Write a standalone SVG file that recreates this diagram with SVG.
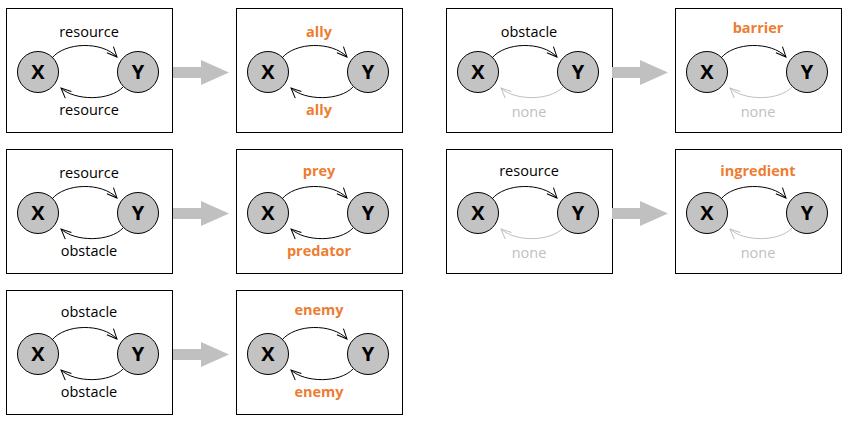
<svg xmlns="http://www.w3.org/2000/svg" width="849" height="423" viewBox="0 0 849 423">
<style>
.box{fill:#fff;stroke:#000;stroke-width:1}
.node{fill:#c3c3c3;stroke:#000;stroke-width:1}
.nl{font-family:"Open Sans","DejaVu Sans",sans-serif;font-weight:bold;font-size:20px;text-anchor:middle;fill:#000}
.lbl{font-family:"Open Sans","DejaVu Sans",sans-serif;font-size:14.5px;text-anchor:middle;fill:#000}
.hl{font-family:"Open Sans","DejaVu Sans",sans-serif;font-size:14.5px;font-weight:bold;text-anchor:middle;fill:#ED7D31}
.nn{font-family:"Open Sans","DejaVu Sans",sans-serif;font-size:14.5px;text-anchor:middle;fill:#c0c0c0}
.arc{fill:none;stroke:#000;stroke-width:1;marker-end:url(#ah)}
.arcg{fill:none;stroke:#c0c0c0;stroke-width:1;marker-end:url(#ahg)}
.big{fill:#c0c0c0}
</style>
<defs>
<marker id="ah" markerUnits="userSpaceOnUse" markerWidth="12" markerHeight="10" refX="10" refY="4.5" orient="auto" viewBox="0 0 12 9" overflow="visible">
<path d="M0,0 L10,4.5 L0,9" fill="none" stroke="#000" stroke-width="1"/>
</marker>
<marker id="ahg" markerUnits="userSpaceOnUse" markerWidth="12" markerHeight="10" refX="10" refY="4.5" orient="auto" viewBox="0 0 12 9" overflow="visible">
<path d="M0,0 L10,4.5 L0,9" fill="none" stroke="#c0c0c0" stroke-width="1"/>
</marker>
</defs>

<g id="panel1" transform="translate(6,8)">
<rect class="box" x="0.5" y="0.5" width="166" height="124"/>
<g id="p1-x"><circle class="node" cx="32" cy="64" r="20.5"/><text class="nl" x="32" y="71">X</text></g>
<g id="p1-y"><circle class="node" cx="132" cy="64" r="20.5"/><text class="nl" x="132" y="71">Y</text></g>
<text class="lbl" x="83" y="29">resource</text>
<text class="lbl" x="83" y="107">resource</text>
</g>
<g id="panel2" transform="translate(236,8)">
<rect class="box" x="0.5" y="0.5" width="166" height="124"/>
<g id="p2-x"><circle class="node" cx="32" cy="64" r="20.5"/><text class="nl" x="32" y="71">X</text></g>
<g id="p2-y"><circle class="node" cx="132" cy="64" r="20.5"/><text class="nl" x="132" y="71">Y</text></g>
<text class="hl" x="83" y="29">ally</text>
<text class="hl" x="83" y="107">ally</text>
</g>
<g id="panel3" transform="translate(446,8)">
<rect class="box" x="0.5" y="0.5" width="166" height="124"/>
<g id="p3-x"><circle class="node" cx="32" cy="64" r="20.5"/><text class="nl" x="32" y="71">X</text></g>
<g id="p3-y"><circle class="node" cx="132" cy="64" r="20.5"/><text class="nl" x="132" y="71">Y</text></g>
<text class="lbl" x="83" y="29">obstacle</text>
<text class="nn" x="83" y="109">none</text>
</g>
<g id="panel4" transform="translate(675,8)">
<rect class="box" x="0.5" y="0.5" width="166" height="124"/>
<g id="p4-x"><circle class="node" cx="32" cy="64" r="20.5"/><text class="nl" x="32" y="71">X</text></g>
<g id="p4-y"><circle class="node" cx="132" cy="64" r="20.5"/><text class="nl" x="132" y="71">Y</text></g>
<text class="hl" x="83" y="25">barrier</text>
<text class="nn" x="83" y="109">none</text>
</g>
<g id="panel5" transform="translate(6,149)">
<rect class="box" x="0.5" y="0.5" width="166" height="124"/>
<g id="p5-x"><circle class="node" cx="32" cy="64" r="20.5"/><text class="nl" x="32" y="71">X</text></g>
<g id="p5-y"><circle class="node" cx="132" cy="64" r="20.5"/><text class="nl" x="132" y="71">Y</text></g>
<text class="lbl" x="83" y="29">resource</text>
<text class="lbl" x="83" y="107">obstacle</text>
</g>
<g id="panel6" transform="translate(236,149)">
<rect class="box" x="0.5" y="0.5" width="166" height="124"/>
<g id="p6-x"><circle class="node" cx="32" cy="64" r="20.5"/><text class="nl" x="32" y="71">X</text></g>
<g id="p6-y"><circle class="node" cx="132" cy="64" r="20.5"/><text class="nl" x="132" y="71">Y</text></g>
<text class="hl" x="83" y="27">prey</text>
<text class="hl" x="83" y="107">predator</text>
</g>
<g id="panel7" transform="translate(446,149)">
<rect class="box" x="0.5" y="0.5" width="166" height="124"/>
<g id="p7-x"><circle class="node" cx="32" cy="64" r="20.5"/><text class="nl" x="32" y="71">X</text></g>
<g id="p7-y"><circle class="node" cx="132" cy="64" r="20.5"/><text class="nl" x="132" y="71">Y</text></g>
<text class="lbl" x="83" y="27">resource</text>
<text class="nn" x="83" y="109">none</text>
</g>
<g id="panel8" transform="translate(675,149)">
<rect class="box" x="0.5" y="0.5" width="166" height="124"/>
<g id="p8-x"><circle class="node" cx="32" cy="64" r="20.5"/><text class="nl" x="32" y="71">X</text></g>
<g id="p8-y"><circle class="node" cx="132" cy="64" r="20.5"/><text class="nl" x="132" y="71">Y</text></g>
<text class="hl" x="83" y="27">ingredient</text>
<text class="nn" x="83" y="109">none</text>
</g>
<g id="panel9" transform="translate(6,290)">
<rect class="box" x="0.5" y="0.5" width="166" height="124"/>
<g id="p9-x"><circle class="node" cx="32" cy="64" r="20.5"/><text class="nl" x="32" y="71">X</text></g>
<g id="p9-y"><circle class="node" cx="132" cy="64" r="20.5"/><text class="nl" x="132" y="71">Y</text></g>
<text class="lbl" x="83" y="27">obstacle</text>
<text class="lbl" x="83" y="107">obstacle</text>
</g>
<g id="panel10" transform="translate(236,290)">
<rect class="box" x="0.5" y="0.5" width="166" height="124"/>
<g id="p10-x"><circle class="node" cx="32" cy="64" r="20.5"/><text class="nl" x="32" y="71">X</text></g>
<g id="p10-y"><circle class="node" cx="132" cy="64" r="20.5"/><text class="nl" x="132" y="71">Y</text></g>
<text class="hl" x="83" y="25">enemy</text>
<text class="hl" x="83" y="107">enemy</text>
</g>

<g id="connectors">
<g transform="translate(6,8)"><path class="arc" d="M46,50 C59,34 96,33 111,49"/><path class="arc" d="M117,79 C104,93 69,93 55,80"/></g>
<g transform="translate(236,8)"><path class="arc" d="M46,50 C59,34 96,33 111,49"/><path class="arc" d="M117,79 C104,93 69,93 55,80"/></g>
<g transform="translate(446,8)"><path class="arc" d="M46,50 C59,34 96,33 111,49"/><path class="arcg" d="M117,79 C104,93 69,93 55,80"/></g>
<g transform="translate(675,8)"><path class="arc" d="M46,50 C59,34 96,33 111,49"/><path class="arcg" d="M117,79 C104,93 69,93 55,80"/></g>
<g transform="translate(6,149)"><path class="arc" d="M46,50 C59,34 96,33 111,49"/><path class="arc" d="M117,79 C104,93 69,93 55,80"/></g>
<g transform="translate(236,149)"><path class="arc" d="M46,50 C59,34 96,33 111,49"/><path class="arc" d="M117,79 C104,93 69,93 55,80"/></g>
<g transform="translate(446,149)"><path class="arc" d="M46,50 C59,34 96,33 111,49"/><path class="arcg" d="M117,79 C104,93 69,93 55,80"/></g>
<g transform="translate(675,149)"><path class="arc" d="M46,50 C59,34 96,33 111,49"/><path class="arcg" d="M117,79 C104,93 69,93 55,80"/></g>
<g transform="translate(6,290)"><path class="arc" d="M46,50 C59,34 96,33 111,49"/><path class="arc" d="M117,79 C104,93 69,93 55,80"/></g>
<g transform="translate(236,290)"><path class="arc" d="M46,50 C59,34 96,33 111,49"/><path class="arc" d="M117,79 C104,93 69,93 55,80"/></g>
<polygon class="big" points="173,67 201,67 201,60 229,72.5 201,85 201,78 173,78"/>
<polygon class="big" points="612,67 640,67 640,60 668,72.5 640,85 640,78 612,78"/>
<polygon class="big" transform="translate(0,141)" points="173,67 201,67 201,60 229,72.5 201,85 201,78 173,78"/>
<polygon class="big" transform="translate(0,141)" points="612,67 640,67 640,60 668,72.5 640,85 640,78 612,78"/>
<polygon class="big" transform="translate(0,282)" points="173,67 201,67 201,60 229,72.5 201,85 201,78 173,78"/>
</g>
</svg>
